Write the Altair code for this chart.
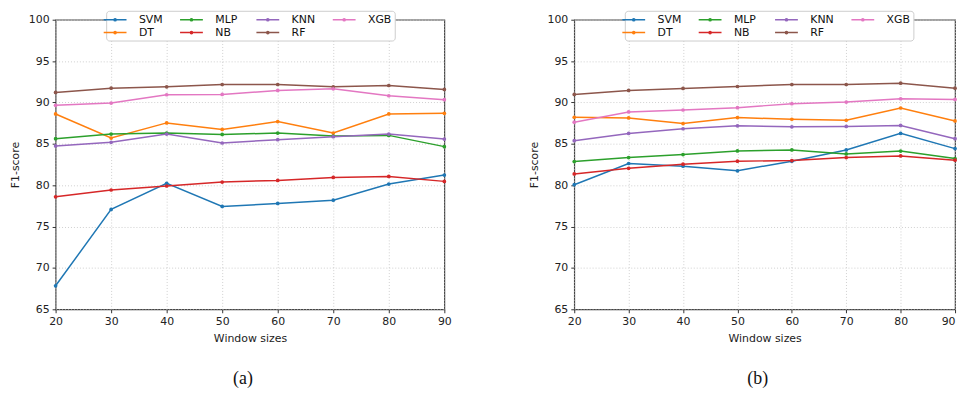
import altair as alt
import pandas as pd

windows = [20, 30, 40, 50, 60, 70, 80, 90]
models = ["SVM", "DT", "MLP", "NB", "KNN", "RF", "XGB"]
colors = ["#1f77b4", "#ff7f0e", "#2ca02c", "#d62728", "#9467bd", "#8c564b", "#e377c2"]
legend_order = ["SVM", "MLP", "KNN", "XGB", "DT", "NB", "RF"]

# panel (a)
a_svm = [67.84, 77.07, 80.22, 77.43, 77.79, 78.19, 80.14, 81.22]
a_dt = [88.61, 85.70, 87.53, 86.74, 87.69, 86.30, 88.61, 88.69]
a_mlp = [85.62, 86.18, 86.30, 86.14, 86.30, 85.94, 86.02, 84.66]
a_nb = [78.59, 79.42, 79.90, 80.38, 80.58, 80.94, 81.06, 80.46]
a_knn = [84.74, 85.18, 86.18, 85.10, 85.50, 85.86, 86.18, 85.58]
a_rf = [91.21, 91.73, 91.89, 92.17, 92.17, 91.89, 92.05, 91.57]
a_xgb = [89.65, 89.93, 90.93, 90.97, 91.45, 91.65, 90.81, 90.33]

# panel (b)
b_svm = [80.06, 82.62, 82.30, 81.74, 82.90, 84.26, 86.26, 84.42]
b_dt = [88.21, 88.13, 87.45, 88.17, 87.97, 87.85, 89.33, 87.77]
b_mlp = [82.86, 83.34, 83.70, 84.14, 84.26, 83.78, 84.12, 83.22]
b_nb = [81.36, 82.04, 82.54, 82.90, 82.98, 83.34, 83.54, 83.02]
b_knn = [85.38, 86.26, 86.82, 87.18, 87.06, 87.10, 87.22, 85.62]
b_rf = [90.97, 91.45, 91.69, 91.93, 92.17, 92.17, 92.33, 91.73]
b_xgb = [87.61, 88.85, 89.09, 89.37, 89.85, 90.05, 90.45, 90.37]

y_ticks = [65, 70, 75, 80, 85, 90, 95, 100]

panel_a = [a_svm, a_dt, a_mlp, a_nb, a_knn, a_rf, a_xgb]
panel_b = [b_svm, b_dt, b_mlp, b_nb, b_knn, b_rf, b_xgb]


def to_frame(series):
    rows = []
    for m, vals in zip(models, series):
        for w, v in zip(windows, vals):
            rows.append({"Model": m, "Window": w, "F1": v})
    return pd.DataFrame(rows)


legend_colors = [colors[models.index(m)] for m in legend_order]
# line segment with a dot, drawn around the symbol centre (size 100 -> unit = 5px)
SYMBOL = "M-2.3,0L2.3,0M-0.22,0A0.22,0.22,0,1,0,0.22,0A0.22,0.22,0,1,0,-0.22,0Z"


def panel(series, caption, width, last_label_right=False):
    df = to_frame(series)
    xaxis = dict(values=windows, labelFlush=False, titlePadding=6, labelPadding=3)
    if last_label_right:
        xaxis["labelAlign"] = alt.ExprRef("datum.value == 90 ? 'right' : 'center'")
    x = alt.X("Window:Q", title="Window sizes",
              scale=alt.Scale(domain=[20, 90], nice=False, zero=False),
              axis=alt.Axis(**xaxis))
    y = alt.Y("F1:Q", title="F1-score",
              scale=alt.Scale(domain=[65, 100], nice=False, zero=False),
              axis=alt.Axis(values=y_ticks, titlePadding=8, labelPadding=3))
    cscale = alt.Scale(domain=legend_order, range=legend_colors)
    leg = alt.Legend(
        title=None, orient="none", legendX=51, legendY=-9,
        direction="horizontal", columns=4, gridAlign="all",
        symbolType=SYMBOL, symbolSize=100, symbolStrokeWidth=1.5,
        labelFont="DejaVu Sans", labelFontSize=11, labelColor="#111111",
        labelOffset=18, columnPadding=14, rowPadding=2, padding=3,
        fillColor="white", strokeColor="#cccccc", cornerRadius=3,
    )
    lines = alt.Chart(df).mark_line(strokeWidth=1.5).encode(
        x=x, y=y,
        color=alt.Color("Model:N", scale=cscale, legend=leg),
    )
    pts = alt.Chart(df).mark_circle(size=14, opacity=1).encode(
        x=x, y=y,
        color=alt.Color("Model:N", scale=cscale, legend=None),
    )
    return alt.layer(lines, pts).properties(
        width=width, height=292,
        title=alt.TitleParams(caption, orient="bottom", anchor="middle", frame="group",
                              font="Liberation Serif", fontSize=18, fontWeight="normal",
                              color="#111111", offset=27, dx=-7),
    )


chart = alt.hconcat(
    panel(panel_a, "(a)", 392), panel(panel_b, "(b)", 384, True), spacing=75
).resolve_scale(
    color="independent"
).properties(
    autosize=alt.AutoSizeParams(type="none"),
    padding={"left": 48, "top": 9, "right": 912, "bottom": 370},
    background="white",
).configure_view(
    stroke="#444444", strokeWidth=1.2,
).configure_axis(
    domain=False,
    tickColor="#333333", tickSize=3.5, tickWidth=1,
    grid=True, gridColor="#c4c4c4", gridDash=[1, 2], gridWidth=0.8,
    labelFont="DejaVu Sans", labelFontSize=11, labelColor="#222222",
    titleFont="DejaVu Sans", titleFontSize=11, titleFontWeight="normal", titleColor="#222222",
)

chart.save("out.html", embed_options={"renderer": "svg", "actions": False})
